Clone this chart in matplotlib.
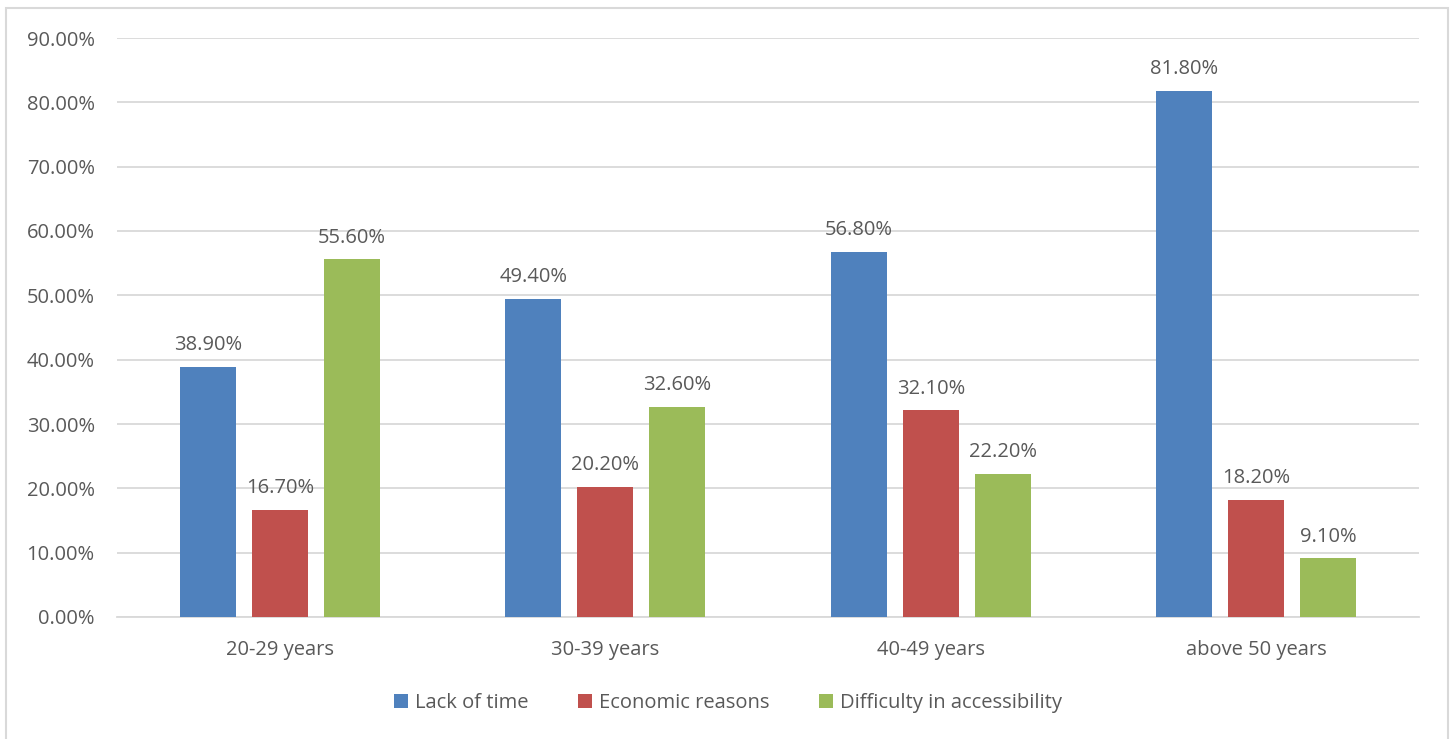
import numpy as np
import matplotlib.pyplot as plt
from matplotlib.patches import Rectangle
from matplotlib.ticker import FuncFormatter

plt.rcParams['font.family'] = ['Open Sans', 'DejaVu Sans']

groups = ['20-29 years', '30-39 years', '40-49 years', 'above 50 years']
lack_of_time = [38.9, 49.4, 56.8, 81.8]
economic = [16.7, 20.2, 32.1, 18.2]
accessibility = [55.6, 32.6, 22.2, 9.1]

series = [
    ('Lack of time', lack_of_time, '#4f81bd'),
    ('Economic reasons', economic, '#c0504d'),
    ('Difficulty in accessibility', accessibility, '#9bbb59'),
]

txt = '#595959'
fs = 14.5
fig = plt.figure(figsize=(14.52, 7.39), dpi=100)
fig.patches.append(Rectangle((6 / 1452, -0.05), 1442 / 1452, 1 - 8 / 739 + 0.05,
                             transform=fig.transFigure, fill=False,
                             edgecolor='#d9d9d9', linewidth=1.5))
ax = fig.add_axes([117 / 1452, 1 - 617 / 739, 1302 / 1452, 579 / 739])

x = np.arange(len(groups))
step = 0.221
width = 0.172
for i, (name, vals, col) in enumerate(series):
    pos = x + (i - 1) * step
    bars = ax.bar(pos, vals, width, color=col, label=name, zorder=3)
    for b, v in zip(bars, vals):
        ax.annotate(f'{v:.2f}%', (b.get_x() + b.get_width() / 2, v),
                    xytext=(0, 8.5), textcoords='offset points',
                    ha='center', va='bottom', fontsize=fs, color=txt)

ax.set_xlim(-0.5, 3.5)
ax.set_ylim(0, 90)
ax.set_yticks(np.arange(0, 91, 10))
ax.yaxis.set_major_formatter(FuncFormatter(lambda v, p: f'{v:.2f}%'))
ax.set_xticks(x)
ax.set_xticklabels(groups)
ax.tick_params(length=0, labelsize=fs, colors=txt)
ax.tick_params(axis='x', pad=16.5)
ax.tick_params(axis='y', pad=16)
ax.grid(axis='y', color='#d9d9d9', linewidth=1.3, zorder=0)
for s in ['top', 'right', 'left']:
    ax.spines[s].set_visible(False)
ax.spines['bottom'].set_color('#d9d9d9')
ax.spines['bottom'].set_linewidth(1.3)

leg = fig.legend(loc='center', bbox_to_anchor=(728 / 1452, 1 - 703 / 739), ncol=3,
                 frameon=False, fontsize=fs, handlelength=0.65, handleheight=0.65,
                 columnspacing=2.5, handletextpad=0.35)
for t in leg.get_texts():
    t.set_color(txt)

fig.savefig('out.png', dpi=100)
